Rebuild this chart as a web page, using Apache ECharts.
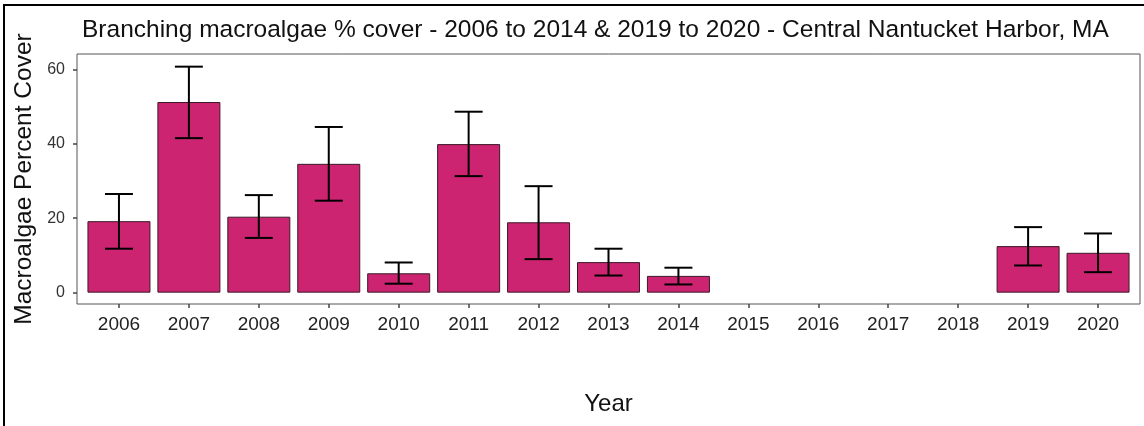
<!DOCTYPE html>
<html>
<head>
<meta charset="utf-8">
<script src="https://cdn.jsdelivr.net/npm/echarts@6/dist/echarts.min.js"></script>
<style>
  html, body { margin: 0; padding: 0; background: #fff; }
  #chart { width: 1144px; height: 426px; }
</style>
</head>
<body>
<div id="chart"></div>
<script>
// years on the x axis (2015-2018 have no survey)
var years = [2006, 2007, 2008, 2009, 2010, 2011, 2012, 2013, 2014, 2015, 2016, 2017, 2018, 2019, 2020];
// mean percent cover
var cover = [19.2, 51.2, 20.4, 34.6, 5.2, 39.9, 18.9, 8.2, 4.5, null, null, null, null, 12.5, 10.7];
// error bar ends
var errLow  = [11.8, 41.5, 14.7, 24.7, 2.4, 31.3, 9.0, 4.6, 2.2, null, null, null, null, 7.3, 5.5];
var errHigh = [26.5, 60.7, 26.2, 44.5, 8.1, 48.6, 28.6, 11.8, 6.7, null, null, null, null, 17.6, 15.9];
var yTicks = [0, 20, 40, 60];

var barData = [];
var errData = [];
for (var i = 0; i < years.length; i++) {
    if (cover[i] == null) continue;
    barData.push([years[i], cover[i]]);
    errData.push([years[i], errLow[i], errHigh[i]]);
}

var myChart = echarts.init(document.getElementById('chart'));
var option = {
    animation: false,
    backgroundColor: '#fff',
    title: {
        text: 'Branching macroalgae % cover - 2006 to 2014 & 2019 to 2020 - Central Nantucket Harbor, MA',
        left: 77,
        top: 13,
        textStyle: { fontFamily: 'Liberation Sans', fontSize: 24.5, fontWeight: 'normal', color: '#111' }
    },
    graphic: [{
        // frame of the original picture (only top and left visible)
        type: 'rect',
        shape: { x: 4, y: 5, width: 1300, height: 600 },
        style: { fill: 'none', stroke: '#000', lineWidth: 2 },
        silent: true
    }],
    grid: {
        left: 77, right: 4, top: 54, bottom: 122,
        show: true, borderColor: '#555', borderWidth: 1, backgroundColor: '#fff'
    },
    xAxis: {
        type: 'value',
        min: 2005.4,
        max: 2020.6,
        name: 'Year',
        nameLocation: 'middle',
        nameGap: 88,
        nameTextStyle: { fontFamily: 'Liberation Sans', fontSize: 24, color: '#111' },
        axisLine: { show: false, onZero: false },
        splitLine: { show: false },
        axisTick: { show: true, length: 4, customValues: years, lineStyle: { color: '#444', width: 1.5 } },
        axisLabel: {
            customValues: years, margin: 11,
            fontFamily: 'Liberation Sans', fontSize: 19, color: '#222',
            formatter: function (v) { return String(v); }
        }
    },
    yAxis: {
        type: 'value',
        min: -3.05,
        max: 64.1,
        name: 'Macroalgae Percent Cover',
        nameLocation: 'middle',
        nameGap: 34,
        nameTextStyle: { fontFamily: 'Liberation Sans', fontSize: 24.5, color: '#111' },
        axisLine: { show: false, onZero: false },
        splitLine: { show: false },
        axisTick: { show: true, length: 4, customValues: yTicks, lineStyle: { color: '#444', width: 1.5 } },
        axisLabel: {
            customValues: yTicks, margin: 12,
            fontFamily: 'Liberation Sans', fontSize: 16, color: '#333'
        }
    },
    series: [
        {
            name: 'cover',
            type: 'bar',
            data: barData,
            barWidth: 63,
            itemStyle: { color: '#CC2470', borderColor: '#3a1a28', borderWidth: 1 }
        },
        {
            name: 'error',
            type: 'custom',
            data: errData,
            z: 5,
            renderItem: function (params, api) {
                var x = api.value(0);
                var lo = api.coord([x, api.value(1)]);
                var hi = api.coord([x, api.value(2)]);
                var half = api.size([0.2, 0])[0];
                var st = { stroke: '#000', lineWidth: 2, fill: 'none' };
                return {
                    type: 'group',
                    children: [
                        { type: 'line', shape: { x1: hi[0], y1: hi[1], x2: lo[0], y2: lo[1] }, style: st },
                        { type: 'line', shape: { x1: hi[0] - half, y1: hi[1], x2: hi[0] + half, y2: hi[1] }, style: st },
                        { type: 'line', shape: { x1: lo[0] - half, y1: lo[1], x2: lo[0] + half, y2: lo[1] }, style: st }
                    ]
                };
            }
        }
    ]
};
myChart.setOption(option);
</script>
</body>
</html>
